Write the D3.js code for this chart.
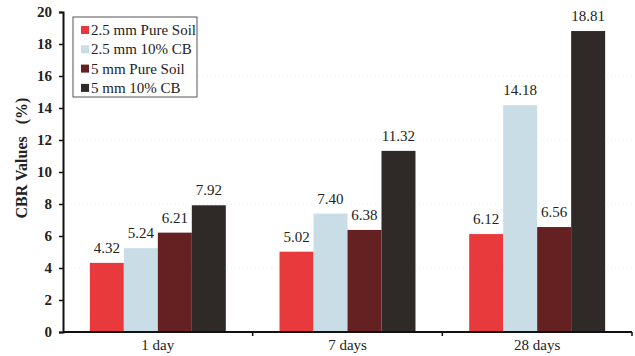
<!DOCTYPE html>
<html>
<head>
<meta charset="utf-8">
<script src="https://cdn.jsdelivr.net/npm/d3@7"></script>
<style>
  html, body { margin: 0; padding: 0; background: #fff; }
  svg { display: block; }
  svg text { font-family: "Liberation Serif", "Times New Roman", Times, "DejaVu Serif", serif; }
</style>
</head>
<body>
<svg id="chart" width="635" height="356"></svg>
<script>
// Curing periods on the x axis
const categories = ["1 day", "7 days", "28 days"];
// Series names shown in the legend
const seriesNames = ["2.5 mm Pure Soil", "2.5 mm 10% CB", "5 mm Pure Soil", "5 mm 10% CB"];
// CBR values (%) per series, one per curing period
const pureSoil25 = [4.32, 5.02, 6.12];
const cb25 = [5.24, 7.40, 14.18];
const pureSoil5 = [6.21, 6.38, 6.56];
const cb5 = [7.92, 11.32, 18.81];
// Y axis ticks
const yTicks = [0, 2, 4, 6, 8, 10, 12, 14, 16, 18, 20];
const gridValues = [4, 8, 12, 16];

const seriesValues = [pureSoil25, cb25, pureSoil5, cb5];
const colors = ["#e8393c", "#c9dde6", "#652122", "#2f2a28"];

const svg = d3.select("#chart");
const margin = { left: 63, right: 3, top: 12, bottom: 24 };
const W = 635, H = 356;
const plotW = W - margin.left - margin.right;
const plotH = H - margin.top - margin.bottom;

const g = svg.append("g").attr("transform", `translate(${margin.left},${margin.top})`);

const x0 = d3.scaleBand().domain(categories).range([0, plotW]).paddingInner(0).paddingOuter(0);
const x1 = d3.scaleBand().domain(seriesNames).range([0, x0.bandwidth()]).paddingInner(0).paddingOuter(0.79);
const y = d3.scaleLinear().domain([0, 20]).range([plotH, 0]);

// faint dotted gridlines
g.append("g").selectAll("line").data(gridValues).join("line")
  .attr("x1", 0).attr("x2", plotW)
  .attr("y1", d => y(d)).attr("y2", d => y(d))
  .attr("stroke", "#ececec").attr("stroke-width", 1)
  .attr("stroke-dasharray", "1,3");

// bars
const groups = g.append("g").selectAll("g").data(categories).join("g")
  .attr("transform", d => `translate(${x0(d)},0)`);

groups.selectAll("rect")
  .data((c, i) => seriesNames.map((s, k) => ({ s, v: seriesValues[k][i], k })))
  .join("rect")
  .attr("x", d => x1(d.s))
  .attr("width", x1.bandwidth())
  .attr("y", d => y(d.v))
  .attr("height", d => plotH - y(d.v))
  .attr("fill", d => colors[d.k]);

groups.selectAll("text")
  .data((c, i) => seriesNames.map((s, k) => ({ s, v: seriesValues[k][i], k })))
  .join("text")
  .attr("x", d => x1(d.s) + x1.bandwidth() / 2)
  .attr("y", d => y(d.v) - 10)
  .attr("text-anchor", "middle")
  .attr("font-size", 15)
  .attr("fill", "#222")
  .text(d => d.v.toFixed(2));

// y axis
const yAxis = g.append("g")
  .call(d3.axisLeft(y).tickValues(yTicks).tickSize(4).tickPadding(7).tickFormat(d3.format("d")));
yAxis.attr("font-family", null);
yAxis.select(".domain").attr("stroke", "#111").attr("stroke-width", 2);
yAxis.selectAll(".tick line").attr("stroke", "#111").attr("stroke-width", 1.5);
yAxis.selectAll("text").attr("font-size", 15)
  .attr("font-weight", "bold").attr("fill", "#222");

// x axis with ticks at group boundaries
const xAxisG = g.append("g").attr("transform", `translate(0,${plotH})`);
xAxisG.append("line").attr("x1", 0).attr("x2", plotW).attr("y1", 0).attr("y2", 0)
  .attr("stroke", "#111").attr("stroke-width", 2);
const boundaries = categories.map(c => x0(c) + x0.bandwidth());
xAxisG.selectAll("line.tk").data(boundaries).join("line").attr("class", "tk")
  .attr("x1", d => d).attr("x2", d => d).attr("y1", 0).attr("y2", 4)
  .attr("stroke", "#111").attr("stroke-width", 1.5);
xAxisG.selectAll("text").data(categories).join("text")
  .attr("x", d => x0(d) + x0.bandwidth() / 2)
  .attr("y", 18)
  .attr("text-anchor", "middle")
  .attr("font-size", 15)
  .attr("fill", "#222")
  .text(d => d);

// y axis title
svg.append("text")
  .attr("transform", `translate(27,158) rotate(-90)`)
  .attr("text-anchor", "middle")
  .attr("font-size", 16)
  .attr("font-weight", "bold")
  .attr("fill", "#222")
  .attr("xml:space", "preserve")
  .text("CBR Values   (%)");

// legend
const legend = svg.append("g").attr("transform", "translate(73,17)");
legend.append("rect").attr("width", 124).attr("height", 80)
  .attr("fill", "#fff").attr("stroke", "#555").attr("stroke-width", 1);
const items = legend.selectAll("g").data(seriesNames).join("g")
  .attr("transform", (d, i) => `translate(8,${13 + i * 19.3})`);
items.append("rect").attr("x", 0).attr("y", -4).attr("width", 8).attr("height", 8)
  .attr("fill", (d, i) => colors[i]);
items.append("text").attr("x", 10).attr("y", 5)
  .attr("font-size", 15).attr("fill", "#222")
  .text(d => d);
</script>
</body>
</html>
